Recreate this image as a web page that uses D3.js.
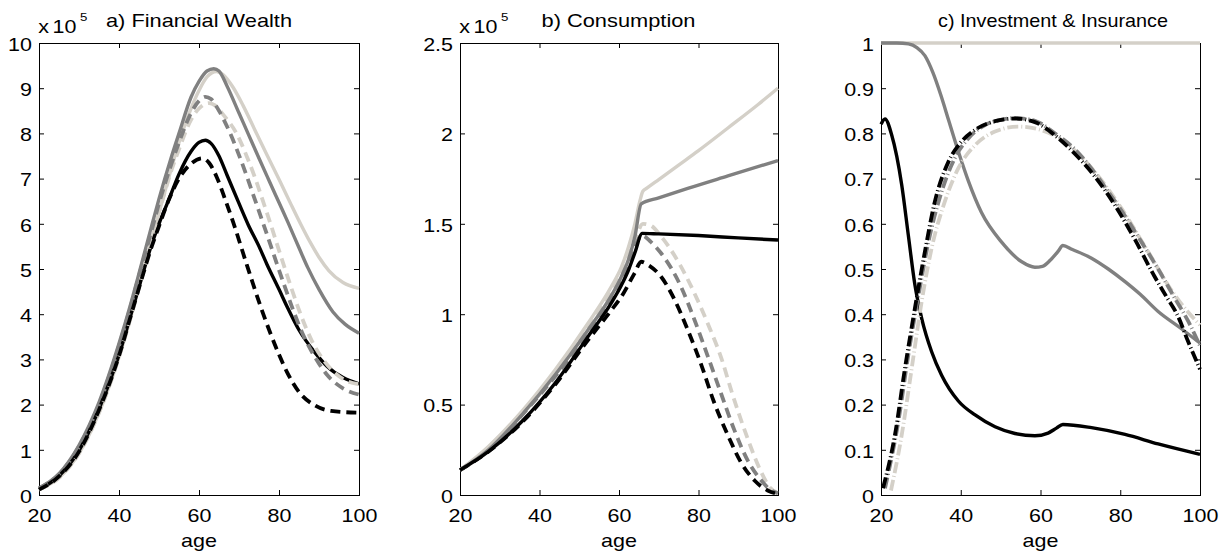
<!DOCTYPE html>
<html>
<head>
<meta charset="utf-8">
<script src="https://cdn.jsdelivr.net/npm/d3@7"></script>
<style>
  body { margin: 0; background: #fff; }
  text, .tick text { font-family: "Liberation Sans", Arial, sans-serif; font-size: 18.6px; fill: #000; }
  .sup { font-size: 11.5px; }
</style>
</head>
<body>
<svg width="1227" height="555"></svg>
<script>
// x axis (age)
var xTicks = [20, 40, 60, 80, 100];

// a) financial wealth, x 10^5
var wealthTicks = [0, 1, 2, 3, 4, 5, 6, 7, 8, 9, 10];
var wealthLight = [[20,0.12],[25,0.38],[30,0.92],[35,1.82],[40,3.05],[43,3.95],[45,4.6],[48,5.6],[50,6.25],[53,7.2],[55,7.8],[58,8.55],[60,8.95],[62,9.25],[64.4,9.37],[66,9.3],[68.5,9.02],[71,8.62],[74,8.07],[77,7.52],[80.3,6.93],[83,6.43],[85.5,5.98],[88,5.56],[90,5.26],[92.5,4.96],[96,4.7],[100,4.57]];
var wealthGray = [[20,0.15],[25,0.47],[30,1.1],[35,2.05],[40,3.35],[43,4.25],[45,4.9],[48,5.9],[50,6.55],[53,7.45],[55,8.0],[58,8.8],[60,9.15],[62,9.38],[63.7,9.43],[65,9.38],[67,9.05],[70,8.45],[72.3,7.99],[75,7.45],[77.7,6.92],[80,6.47],[82.3,6.02],[85,5.47],[87.2,5.03],[90,4.55],[93.5,4.05],[96.5,3.78],[100,3.58]];
var wealthBlack = [[20,0.12],[25,0.42],[30,0.98],[35,1.9],[40,3.1],[43,4.0],[45,4.6],[48,5.5],[50,6.0],[52.3,6.5],[55,7.1],[58,7.6],[60,7.8],[61.6,7.85],[63,7.78],[65,7.5],[67,7.08],[70,6.45],[72.3,5.98],[75,5.5],[77,5.1],[80,4.55],[82,4.17],[85,3.65],[89,3.15],[92,2.85],[96,2.6],[100,2.46]];
var wealthLightDash = [[20,0.12],[25,0.38],[30,0.92],[35,1.82],[40,3.05],[43,3.95],[45,4.6],[48,5.6],[50,6.25],[53,7.15],[55,7.65],[58,8.3],[60,8.55],[62.5,8.67],[64,8.62],[66,8.42],[69.5,7.98],[72,7.48],[74,7.02],[76,6.5],[77.7,6.05],[79.5,5.55],[81.4,5.03],[83.2,4.55],[85.1,4.07],[88,3.45],[91,3.0],[94,2.7],[97,2.52],[100,2.45]];
var wealthGrayDash = [[20,0.15],[25,0.46],[30,1.07],[35,2.0],[40,3.3],[43,4.2],[45,4.85],[48,5.8],[50,6.45],[53,7.3],[55,7.8],[58,8.45],[60,8.72],[61.6,8.81],[63,8.76],[65,8.5],[67.8,8.0],[70,7.52],[72,7.04],[74,6.53],[76,6.02],[78,5.5],[79.8,5.03],[82,4.47],[83.5,4.1],[86,3.55],[89.2,3.02],[92,2.66],[96,2.36],[100,2.22]];
var wealthBlackDash = [[20,0.12],[25,0.41],[30,0.96],[35,1.88],[40,3.08],[43,3.98],[45,4.58],[48,5.45],[50,5.95],[52.3,6.5],[55,7.0],[58,7.33],[60.8,7.45],[62.5,7.35],[64.5,7.02],[66.5,6.55],[68.6,6.02],[72,5.08],[75.6,4.12],[79.8,3.15],[82,2.72],[85,2.28],[89,1.98],[93,1.86],[100,1.82]];

// b) consumption, x 10^5
var consTicks = [0, 0.5, 1, 1.5, 2, 2.5];
var consLight = [[20,0.138],[27.1,0.267],[35.5,0.461],[43.9,0.691],[52.2,0.95],[58,1.15],[60.6,1.26],[62.5,1.38],[64,1.5],[65.3,1.63],[66,1.68],[67,1.697],[70,1.745],[75,1.825],[80,1.905],[87.4,2.03],[95,2.16],[100,2.25]];
var consGray = [[20,0.138],[27.1,0.249],[35.5,0.442],[43.9,0.664],[52.2,0.913],[58,1.1],[60.6,1.208],[62.5,1.31],[64,1.43],[65.6,1.61],[70,1.643],[77.3,1.696],[87.4,1.765],[100,1.85]];
var consBlack = [[20,0.138],[27.1,0.24],[35.5,0.405],[43.9,0.618],[52.2,0.876],[58,1.06],[60.6,1.16],[62.5,1.25],[64,1.34],[65.85,1.447],[70,1.444],[80,1.435],[90,1.422],[100,1.41]];
var consLightDash = [[20,0.138],[27.1,0.26],[35.5,0.45],[43.9,0.68],[52.2,0.93],[58,1.12],[60.6,1.23],[63.9,1.40],[66,1.50],[68,1.49],[70.6,1.43],[75.6,1.263],[79,1.115],[82.3,0.95],[85.7,0.76],[88.5,0.56],[92.4,0.31],[95.7,0.13],[98,0.04],[100,0.01]];
var consGrayDash = [[20,0.138],[27.1,0.25],[35.5,0.44],[43.9,0.655],[52.2,0.894],[58,1.07],[60.6,1.17],[63.9,1.37],[65.8,1.435],[68,1.40],[70.6,1.337],[75.6,1.152],[79,0.968],[82.3,0.77],[85.7,0.56],[89,0.36],[92.4,0.19],[95.7,0.083],[98,0.03],[100,0.01]];
var consBlackDash = [[20,0.138],[27.1,0.24],[35.5,0.40],[43.9,0.61],[52.2,0.857],[58,1.02],[60.6,1.097],[63.9,1.226],[65.6,1.29],[67.5,1.27],[70.6,1.207],[74,1.079],[77.3,0.913],[80.7,0.72],[83.8,0.52],[87.4,0.33],[90.7,0.18],[94.1,0.08],[97.4,0.025],[100,0.005]];

// c) investment & insurance
var investTicks = [0, 0.1, 0.2, 0.3, 0.4, 0.5, 0.6, 0.7, 0.8, 0.9, 1];
var investLight = [[20,1],[100,1]];
var investGray = [[20,1],[24,1],[26.9,0.998],[29,0.99],[31,0.972],[33,0.935],[35,0.885],[37,0.828],[39.4,0.76],[41.9,0.695],[45.2,0.625],[50.2,0.56],[55.3,0.516],[58.6,0.504],[60.5,0.506],[62.5,0.52],[64.5,0.54],[65.6,0.552],[68,0.543],[72.8,0.524],[77,0.5],[81.2,0.472],[85,0.444],[89.5,0.406],[95,0.37],[100,0.336]];
var investBlack = [[20,0.82],[21,0.832],[22.7,0.796],[25.2,0.686],[26.85,0.575],[28.5,0.465],[30.2,0.391],[32.7,0.317],[35.2,0.265],[39.4,0.208],[43.6,0.177],[48.6,0.151],[53.6,0.136],[58.6,0.131],[61.9,0.137],[64,0.148],[65.6,0.156],[72.8,0.149],[81.2,0.134],[89.5,0.113],[100,0.09]];
var investLightDash = [[22.5,0.01],[25.2,0.133],[27.7,0.28],[30.2,0.428],[32.7,0.546],[36,0.649],[39.4,0.723],[43.6,0.774],[48.6,0.804],[54.4,0.815],[60.3,0.807],[67,0.774],[73.6,0.715],[80.3,0.634],[87,0.538],[93.7,0.442],[97,0.405],[100,0.376]];
var investGrayDash = [[21,0.015],[24.3,0.16],[26.85,0.31],[29.4,0.442],[31.9,0.56],[35.2,0.671],[38.5,0.745],[42,0.79],[46,0.818],[50,0.83],[53.6,0.834],[58.6,0.828],[63.6,0.8],[68.6,0.765],[73,0.72],[77,0.671],[81,0.62],[85.3,0.56],[89.5,0.5],[93.7,0.435],[97,0.385],[100,0.33]];
var investBlackDash = [[20.5,0.015],[23.5,0.133],[26,0.28],[28.5,0.413],[31,0.538],[33.5,0.649],[36.9,0.737],[40.2,0.782],[43.6,0.808],[48.6,0.827],[53.6,0.833],[58.6,0.825],[63.6,0.796],[68.6,0.755],[73.6,0.705],[78.6,0.642],[83.7,0.565],[88.5,0.485],[91.5,0.44],[94.5,0.395],[97,0.34],[100,0.278]];

var black = "#000000", gray = "#808080", light = "#d4d0c8";
var dashed = "10,6", dashDot = "11,3,1,3";
var plotTop = 43, plotBottom = 495, sx = 1.155;

var panels = [
  {left: 39, right: 359, domain: [0, 10], ticks: wealthTicks, fmt: d3.format("d"),
   title: "a) Financial Wealth", titleX: 106, titleW: 186, exp: true,
   series: [
     {data: wealthLight, color: light}, {data: wealthGray, color: gray}, {data: wealthBlack, color: black},
     {data: wealthLightDash, color: light, dash: dashed}, {data: wealthGrayDash, color: gray, dash: dashed},
     {data: wealthBlackDash, color: black, dash: dashed}]},
  {left: 460, right: 778, domain: [0, 2.5], ticks: consTicks, fmt: d3.format("~g"),
   title: "b) Consumption", titleX: 541.5, titleW: 154, exp: true,
   series: [
     {data: consLightDash, color: light, dash: dashed}, {data: consGrayDash, color: gray, dash: dashed},
     {data: consBlackDash, color: black, dash: dashed},
     {data: consLight, color: light}, {data: consGray, color: gray}, {data: consBlack, color: black}]},
  {left: 881, right: 1200, domain: [0, 1], ticks: investTicks, fmt: d3.format("~g"),
   title: "c) Investment & Insurance", titleX: 938, titleW: 230, exp: false,
   series: [
     {data: investLight, color: light}, {data: investGray, color: gray}, {data: investBlack, color: black},
     {data: investLightDash, color: light, dash: dashDot}, {data: investGrayDash, color: gray, dash: dashDot},
     {data: investBlackDash, color: black, dash: dashDot}]}
];

var svg = d3.select("svg");

panels.forEach(function(p) {
  var x = d3.scaleLinear().domain([20, 100]).range([p.left, p.right]);
  var y = d3.scaleLinear().domain(p.domain).range([plotBottom, plotTop]);
  var g = svg.append("g");

  g.append("rect")
    .attr("x", p.left + 0.5).attr("y", plotTop + 0.5)
    .attr("width", p.right - p.left).attr("height", plotBottom - plotTop)
    .attr("fill", "none").attr("stroke", "#000").attr("stroke-width", 1);

  var gx = g.append("g").attr("transform", "translate(0," + plotBottom + ")")
    .call(d3.axisBottom(x).tickValues(xTicks).tickSize(-5).tickSizeOuter(0));
  gx.selectAll(".tick text").attr("y", null).attr("dy", null)
    .attr("transform", "translate(0,26.7) scale(" + sx + ",1)");

  var gt = g.append("g").attr("transform", "translate(0," + plotTop + ")")
    .call(d3.axisTop(x).tickValues(xTicks).tickSize(-5).tickSizeOuter(0).tickFormat(""));

  var gy = g.append("g").attr("transform", "translate(" + p.left + ",0)")
    .call(d3.axisLeft(y).tickValues(p.ticks).tickSize(-5).tickSizeOuter(0).tickFormat(p.fmt));
  gy.selectAll(".tick text").attr("x", null).attr("dy", null)
    .attr("transform", "translate(-7,7.3) scale(" + sx + ",1)");

  var gr = g.append("g").attr("transform", "translate(" + p.right + ",0)")
    .call(d3.axisRight(y).tickValues(p.ticks).tickSize(-5).tickSizeOuter(0).tickFormat(""));

  [gx, gt, gy, gr].forEach(function(a) { a.select(".domain").remove(); });

  var line = d3.line()
    .x(function(d) { return x(d[0]); })
    .y(function(d) { return y(d[1]); })
    .curve(d3.curveMonotoneX);

  g.selectAll("path.series")
    .data(p.series)
    .enter()
    .append("path")
      .attr("class", "series")
      .attr("d", function(d) { return line(d.data); })
      .attr("fill", "none")
      .attr("stroke", function(d) { return d.color; })
      .attr("stroke-width", function(d) { return d.dash ? 3.8 : 3.4; })
      .attr("stroke-dasharray", function(d) { return d.dash || null; })
      .attr("stroke-linejoin", "round");

  g.append("text")
    .attr("x", p.titleX).attr("y", 27.3)
    .attr("textLength", p.titleW).attr("lengthAdjust", "spacingAndGlyphs")
    .text(p.title);

  var cx = (p.left + p.right) / 2;
  g.append("text")
    .attr("text-anchor", "middle")
    .attr("transform", "translate(" + cx + ",546.7) scale(" + sx + ",1)")
    .text("age");

  if (p.exp) {
    g.append("text")
      .attr("transform", "translate(" + (p.left - 0.8) + ",33.3) scale(" + sx + ",1)")
      .text("x");
    g.append("text")
      .attr("transform", "translate(" + (p.left + 13.5) + ",33.3) scale(" + sx + ",1)")
      .text("10");
    g.append("text")
      .attr("class", "sup")
      .attr("transform", "translate(" + (p.left + 41) + ",21) scale(" + sx + ",1)")
      .text("5");
  }
});
</script>
</body>
</html>
